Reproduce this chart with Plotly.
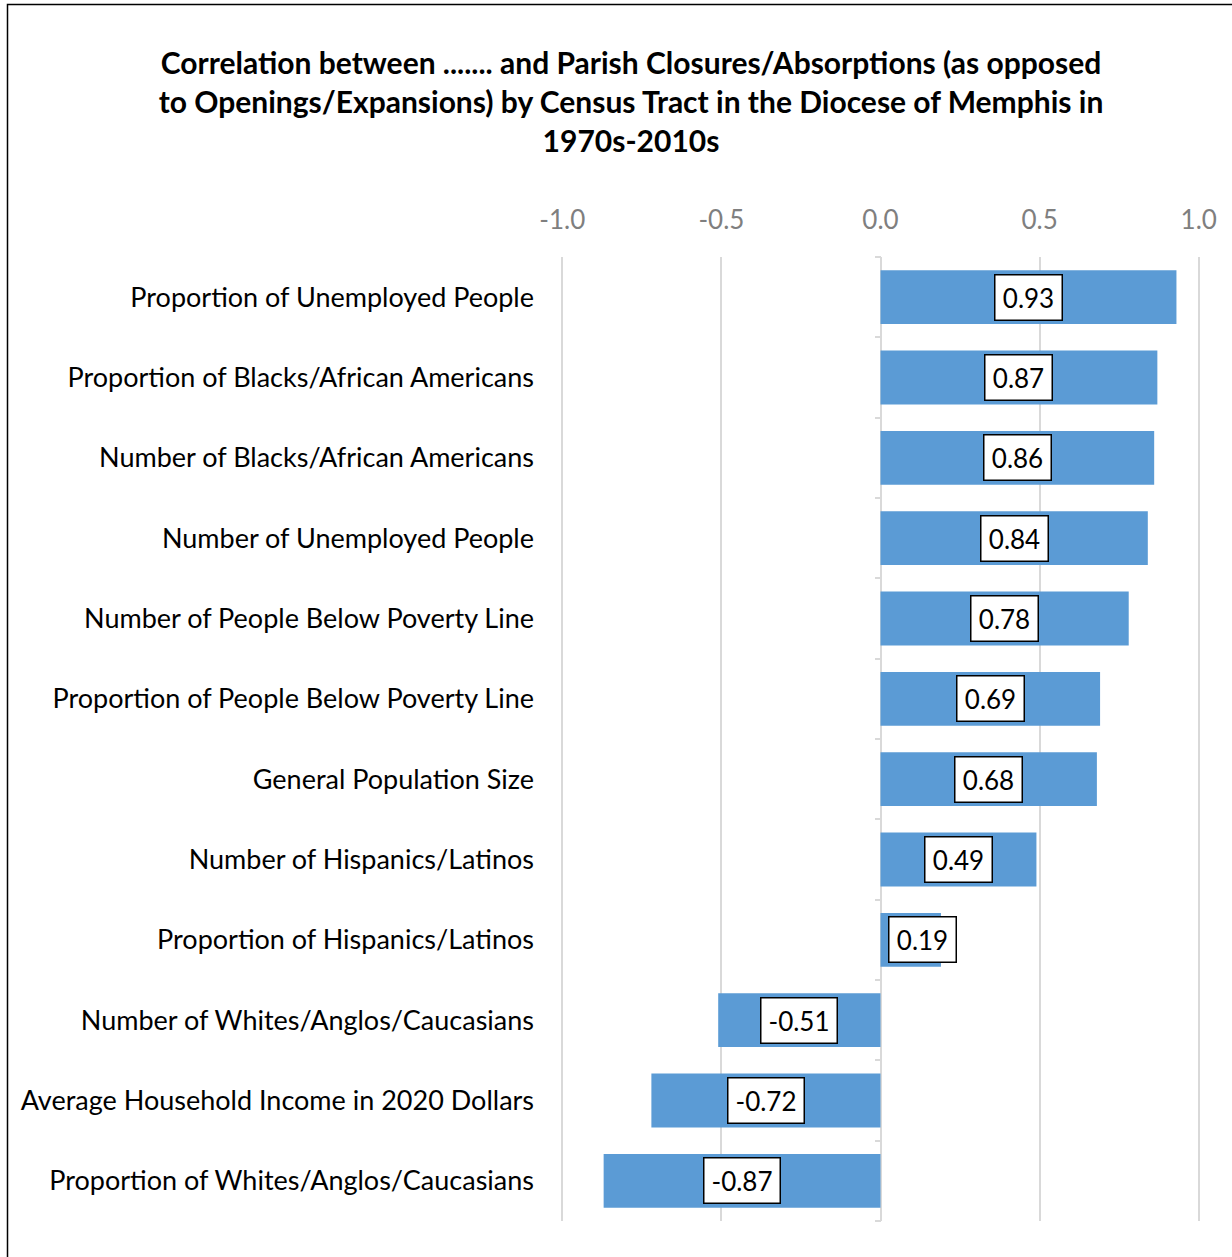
import plotly.graph_objects as go

categories = [
    "Proportion of Unemployed People",
    "Proportion of Blacks/African Americans",
    "Number of Blacks/African Americans",
    "Number of Unemployed People",
    "Number of People Below Poverty Line",
    "Proportion of People Below Poverty Line",
    "General Population Size",
    "Number of Hispanics/Latinos",
    "Proportion of Hispanics/Latinos",
    "Number of Whites/Anglos/Caucasians",
    "Average Household Income in 2020 Dollars",
    "Proportion of Whites/Anglos/Caucasians",
]
values = [0.93, 0.87, 0.86, 0.84, 0.78, 0.69, 0.68, 0.49, 0.19, -0.51, -0.72, -0.87]
x_ticks = [-1.0, -0.5, 0.0, 0.5, 1.0]
x_tick_labels = ["-1.0", "-0.5", "0.0", "0.5", "1.0"]

FONT = "Lato"
W, H = 1232, 1257
L, R, T, B = 561, 32, 257, 36
PW, PH = W - L - R, H - T - B

fig = go.Figure()
fig.add_trace(go.Bar(
    x=values, y=categories, orientation="h",
    marker=dict(color="#5b9bd5", line=dict(width=0)),
    hoverinfo="skip", showlegend=False,
))
# invisible trace for the zero-axis tick marks
fig.add_trace(go.Scatter(x=[0], y=[0], yaxis="y2", mode="markers",
                         marker=dict(opacity=0), showlegend=False, hoverinfo="skip"))

n = len(categories)
for c, v in zip(categories, values):
    txt = f"{v:.2f}"
    half_box = 0.11
    if abs(v) / 2 < half_box:
        xa, xanc, xs = 0, "left" if v > 0 else "right", 7 if v > 0 else -7
    else:
        xa, xanc, xs = v / 2, "center", 0
    fig.add_annotation(
        x=xa, y=c, xref="x", yref="y", xanchor=xanc, xshift=xs,
        text=txt, showarrow=False, width=24 + 9 * len(txt), height=38,
        font=dict(family=FONT, size=26, color="black"),
        bgcolor="white", bordercolor="black", borderwidth=1.5, borderpad=3,
    )

# outer frame
px0, py0 = 7.5, 4.5
fig.add_shape(type="rect", xref="paper", yref="paper",
              x0=(px0 - L) / PW, x1=(W + 20 - L) / PW,
              y0=(T + PH - (H + 20)) / PH, y1=(T + PH - py0) / PH,
              line=dict(color="black", width=1.5), fillcolor="rgba(0,0,0,0)", layer="above")

fig.update_layout(
    width=W, height=H,
    margin=dict(l=L, r=R, t=T, b=B),
    paper_bgcolor="white", plot_bgcolor="white",
    bargap=0.33,
    title=dict(
        text="Correlation between ....... and Parish Closures/Absorptions (as opposed<br>"
             "to Openings/Expansions) by Census Tract in the Diocese of Memphis in<br>1970s-2010s",
        font=dict(family=FONT, size=30, color="black", weight="bold"),
        x=631 / W, xanchor="center", xref="container",
        y=1 - 74 / H, yanchor="top", yref="container",
    ),
    xaxis=dict(
        side="top", range=[-1.004, 1.004], tickvals=x_ticks, ticktext=x_tick_labels,
        showgrid=True, gridcolor="#d9d9d9", gridwidth=2,
        zeroline=True, zerolinecolor="#d9d9d9", zerolinewidth=2,
        showline=False, ticks="", ticklabelstandoff=22,
        tickfont=dict(family=FONT, size=26, color="#7f7f7f"),
    ),
    yaxis=dict(
        categoryorder="array", categoryarray=categories[::-1],
        range=[-0.5, n - 0.5], showgrid=False, zeroline=False, showline=False,
        ticks="", ticklabelstandoff=26,
        tickfont=dict(family=FONT, size=27, color="black"),
    ),
    yaxis2=dict(
        overlaying="y", anchor="free", position=0.5, side="left",
        range=[-0.5, n - 0.5], tickvals=[i - 0.5 for i in range(n + 1)],
        showticklabels=False, ticks="outside", ticklen=6, tickwidth=2,
        tickcolor="#d9d9d9", showline=False, showgrid=False, zeroline=False,
    ),
)

fig.write_html("out.html", config={"displayModeBar": False},
               post_script="document.body.style.margin='0';")
